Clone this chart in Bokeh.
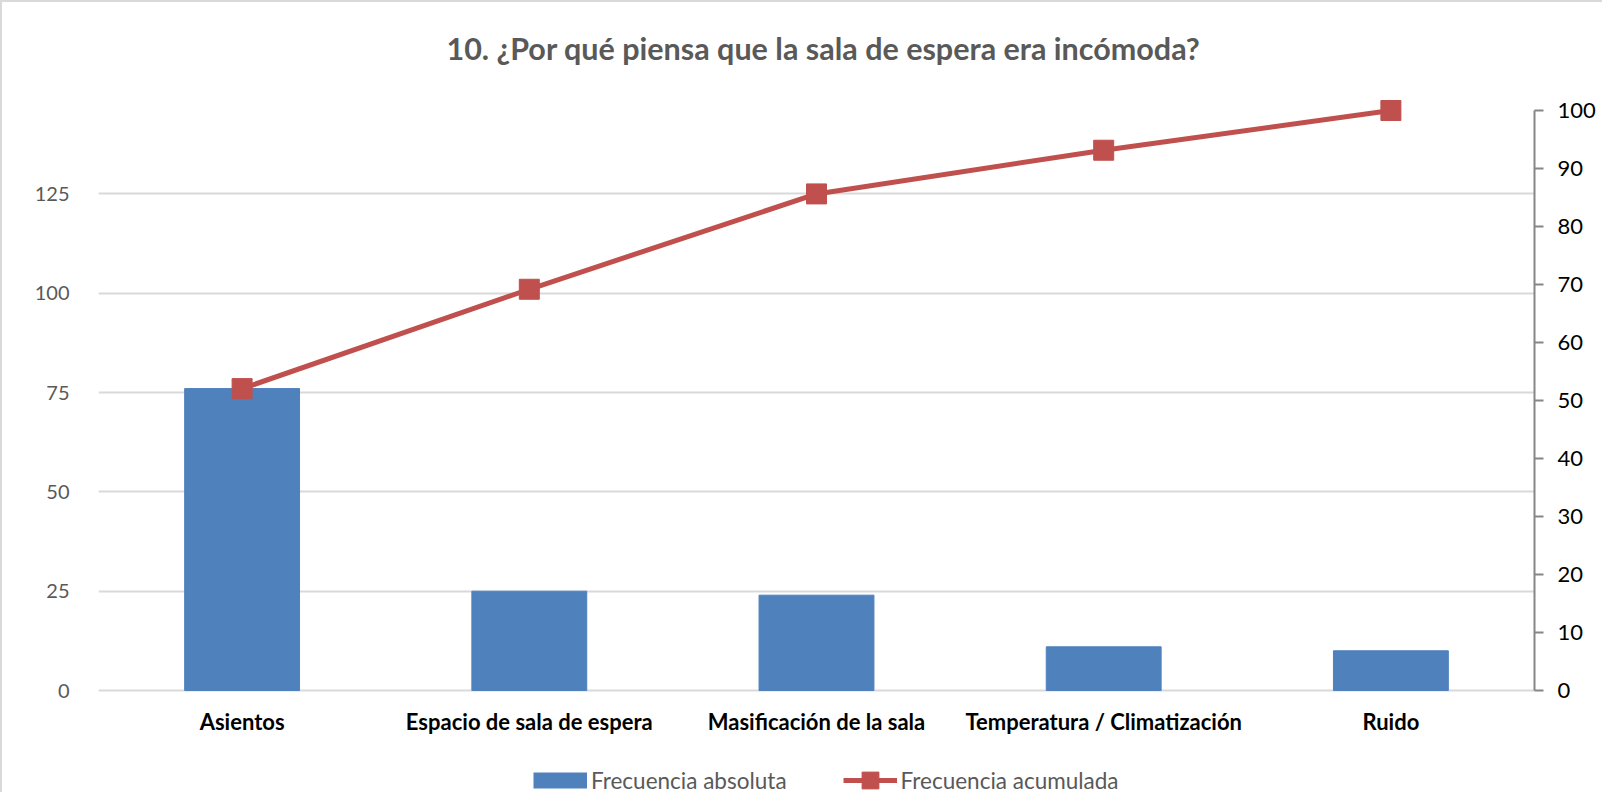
from bokeh.plotting import figure
from bokeh.models import (Range1d, LinearAxis, FixedTicker, Legend, LegendItem,
                          ColumnDataSource, Label)
from bokeh.core.properties import value
from bokeh.embed import file_html
from bokeh.resources import INLINE

categorias = ["Asientos", "Espacio de sala de espera", "Masificación de la sala",
              "Temperatura / Climatización", "Ruido"]
frecuencia_absoluta = [76, 25, 24, 11, 10]
frecuencia_acumulada = [52.05, 69.18, 85.62, 93.15, 100.0]
ticks_izq = [0, 25, 50, 75, 100, 125]
ticks_der = [0, 10, 20, 30, 40, 50, 60, 70, 80, 90, 100]
titulo = "10. ¿Por qué piensa que la sala de espera era incómoda?"

FONT = "Lato"
GRAY = "#595959"
BLUE = "#4f81bd"
RED = "#c0504d"

# layout (pixels on the canvas)
W, H = 1602, 792
TOP_PX, ZERO_PX = 108, 688          # canvas y of the 146 (=100 %) level and of 0
TOTAL = 146.0                       # primary axis maximum (sum of frequencies)
PPU = (ZERO_PX - TOP_PX) / TOTAL    # pixels per unit
Y_HI = TOTAL + TOP_PX / PPU
Y_LO = -(H - ZERO_PX) / PPU

src = ColumnDataSource(dict(cat=categorias, abs=frecuencia_absoluta, acu=frecuencia_acumulada))

p = figure(x_range=categorias, y_range=Range1d(Y_LO, Y_HI), width=W, height=H,
           output_backend="svg", toolbar_location=None,
           min_border_left=96, min_border_right=70, min_border_top=0, min_border_bottom=0)
p.styles = {"border-left": "2px solid #d9d9d9", "border-top": "2px solid #d9d9d9"}
p.outline_line_color = None
p.background_fill_color = "white"
p.border_fill_color = "white"

p.extra_y_ranges = {"pct": Range1d(Y_LO * 100 / TOTAL, Y_HI * 100 / TOTAL)}

bars = p.vbar(x="cat", top="abs", width=0.4, source=src, color=BLUE)
line = p.line(x="cat", y="acu", source=src, y_range_name="pct", line_color=RED, line_width=5)
pts = p.scatter(x="cat", y="acu", source=src, y_range_name="pct", marker="square", size=20,
                fill_color=RED, line_color=RED)

# legend swatch for the bars (a thick line gives a flat rectangle in the legend)
swatch = p.line(x=[categorias[0]], y=[float("nan")], line_color=BLUE, line_width=16,
                line_cap="butt")

# title
p.add_layout(Label(x=2.5 + 7 / 287, y=TOTAL + (TOP_PX - 45) / PPU, text=titulo,
                   text_align="center", text_baseline="middle", text_font=FONT,
                   text_font_size="30.5px", text_font_style="bold", text_color=GRAY))

# category labels
p.text(x=categorias, y=[-31 / PPU] * len(categorias), text=categorias,
       text_align="center", text_baseline="middle", text_font=value(FONT),
       text_font_size="22px", text_font_style="bold", text_color="black")

# left axis
ya = p.yaxis[0]
ya.ticker = FixedTicker(ticks=ticks_izq)
ya.axis_line_color = None
ya.major_tick_line_color = None
ya.minor_tick_line_color = None
ya.major_label_text_font = FONT
ya.major_label_text_font_size = "20px"
ya.major_label_text_color = GRAY
ya.major_label_standoff = 23

p.ygrid.ticker = FixedTicker(ticks=ticks_izq)
p.ygrid.grid_line_color = "#d9d9d9"
p.ygrid.grid_line_width = 2
p.xgrid.grid_line_color = None
p.xaxis.visible = False

# right axis
ra = LinearAxis(y_range_name="pct", ticker=FixedTicker(ticks=ticks_der), bounds=(0, 100))
ra.axis_line_color = "#868686"
ra.axis_line_width = 2
ra.major_tick_line_color = "#868686"
ra.major_tick_line_width = 2
ra.major_tick_out = 9
ra.major_tick_in = 0
ra.minor_tick_line_color = None
ra.major_label_text_font = FONT
ra.major_label_text_font_size = "22px"
ra.major_label_text_color = "black"
ra.major_label_standoff = 14
p.add_layout(ra, "right")

legend = Legend(items=[LegendItem(label="Frecuencia absoluta", renderers=[swatch]),
                       LegendItem(label="Frecuencia acumulada", renderers=[line, pts])],
                orientation="horizontal", location=(435, -7),
                label_text_font=FONT, label_text_font_size="22.5px", label_text_color=GRAY,
                glyph_width=54, glyph_height=42, spacing=56, label_standoff=4,
                border_line_color=None, background_fill_alpha=0, margin=0, padding=0)
p.add_layout(legend, "center")

open("out.html", "w").write(file_html(p, INLINE))
